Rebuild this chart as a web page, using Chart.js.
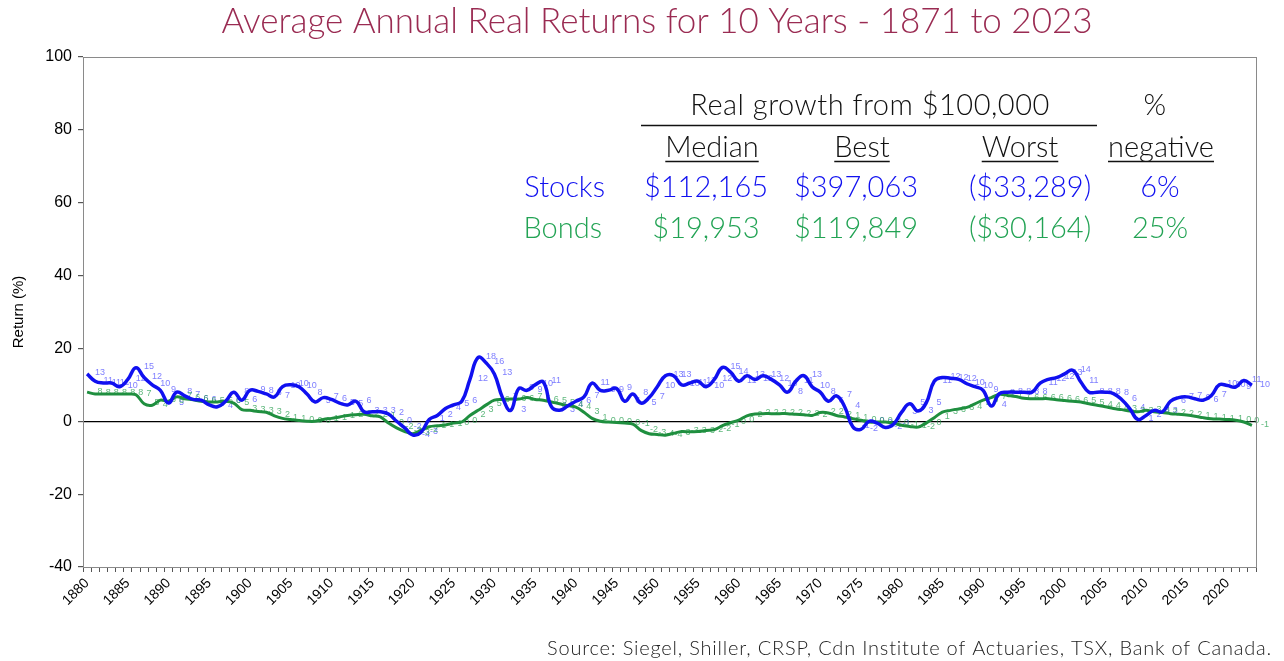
<!DOCTYPE html>
<html>
<head>
<meta charset="utf-8">
<script src="https://cdn.jsdelivr.net/npm/chart.js"></script>
<style>
  html, body { margin: 0; padding: 0; background: #fff; }
  canvas { display: block; }
</style>
</head>
<body>
<canvas id="returnsChart" width="1284" height="661"></canvas>
<script>
// 10-year average annual real returns, one value per end year 1880..2023
const firstYear = 1880;
const lastYear = 2023;
const years = [];
for (let y = firstYear; y <= lastYear; y++) years.push(String(y));

const tickYears = [1880, 1885, 1890, 1895, 1900, 1905, 1910, 1915, 1920, 1925, 1930, 1935,
  1940, 1945, 1950, 1955, 1960, 1965, 1970, 1975, 1980, 1985, 1990, 1995, 2000, 2005,
  2010, 2015, 2020];

const stocks = [
  13, 11, 10.5, 10.5, 9.5, 11.5, 14.7, 12, 10, 8.5,
  5, 8, 7, 6, 5.8, 4.5, 4, 5.5, 8, 5.8,
  8.5, 8.2, 7.5, 6.7, 9.5, 10, 9.5, 7.5, 5.3, 6.5,
  6, 5, 4.5, 5.5, 2.6, 2.6, 2.6, 2, 0, -1.8,
  -3.8, -3, 0.5, 1.6, 3.5, 4.5, 5.5, 11.5, 17.5, 16,
  13, 6.5, 3, 9, 8.5, 10, 10.8, 4, 3, 4.2,
  5.5, 6.7, 10.5, 8.5, 8.5, 9, 5.5, 7.5, 5, 6.5,
  9.5, 12.5, 12.5, 10, 10.5, 11, 9.5, 11.5, 14.8, 13.5,
  11, 12.5, 11.5, 12.5, 11.5, 10, 8, 11, 12.5, 9.5,
  8, 5.5, 7, 4, -1.5, -2.2, 0, -0.5, -1.7, -0.8,
  2.5, 4.8, 2.8, 5, 11, 12, 11.8, 11.5, 10.3, 9.5,
  8.5, 4.2, 7.6, 8, 8, 8, 8, 10.5, 11.5, 12,
  13, 14, 10.8, 8, 8, 8, 7.6, 6, 3.5, 0.5,
  1.6, 3, 2.6, 5.5, 6.5, 6.7, 6.2, 5.8, 7, 10,
  9.8, 9.4, 11.2, 9.9
];

const bonds = [
  8, 7.5, 7.5, 7.5, 7.5, 7.5, 7.3, 4.8, 4.4, 5.8,
  5.5, 6.7, 6.2, 5.9, 5.5, 5.3, 5.3, 5.5, 5, 3.2,
  3, 2.7, 2.5, 1.5, 0.8, 0.5, 0.2, 0, 0, 0.5,
  0.8, 1.2, 1.6, 1.8, 1.9, 1.5, 1.2, -0.5, -1.8, -2.8,
  -3.4, -2.5, -1.5, -1.2, -1, -0.5, -0.2, 1.6, 3, 4.5,
  5.8, 6, 6.1, 6.1, 6.5, 6, 5.8, 5.3, 4.8, 4.3,
  3.9, 2.5, 0.8, 0, -0.2, -0.3, -0.5, -0.8, -2.5, -3.4,
  -3.6, -3.8, -3.3, -2.8, -2.9, -2.8, -2.5, -2.3, -1.2, -0.4,
  0.3, 1.5, 2, 2.1, 2.1, 2.1, 2.1, 1.9, 1.8, 1.6,
  2.4, 2.3, 1.6, 1.2, 0.7, 0.3, -0.2, -0.2, -0.2, -0.5,
  -1.1, -1.4, -1.6, -0.5, 1, 2.5, 3, 3.4, 3.8, 4.8,
  5.8, 6.5, 7.4, 7.1, 6.8, 6.3, 6.2, 6.2, 6.2, 5.9,
  5.7, 5.5, 5.3, 4.8, 4.4, 4, 3.5, 3.2, 2.8, 2.6,
  3, 2.6, 2.4, 2.1, 1.9, 1.7, 1.4, 1, 0.7, 0.6,
  0.5, 0.3, -0.2, -1.1
];

// summary table
const tableCols = ['Median', 'Best', 'Worst', 'negative'];
const stockRow = ['$112,165', '$397,063', '($33,289)', '6%'];
const bondRow = ['$19,953', '$119,849', '($30,164)', '25%'];

const BLUE = '#1010f0';
const GREEN = '#1f8f3f';
const GREEN_TXT = '#22a354';
const TITLE_COL = '#9a2b52';
const FONT = 'Lato, "Open Sans", sans-serif';

// small value labels next to each point
const pointLabels = {
  id: 'pointLabels',
  beforeDatasetsDraw(chart) {
    const ctx = chart.ctx;
    ctx.save();
    ctx.font = '9px "Liberation Sans", Arial, sans-serif';
    ctx.textAlign = 'center';
    ctx.textBaseline = 'middle';
    chart.data.datasets.forEach((ds, i) => {
      const meta = chart.getDatasetMeta(i);
      ctx.fillStyle = i === 0 ? 'rgba(70,70,255,0.7)' : 'rgba(40,160,80,0.75)';
      meta.data.forEach((pt, j) => {
        ctx.fillText(String(Math.round(ds.data[j])), pt.x + 13, pt.y - 1);
      });
    });
    ctx.restore();
  }
};

// title, table, axis title, source
const decorations = {
  id: 'decorations',
  afterDraw(chart) {
    const ctx = chart.ctx;
    const a = chart.chartArea;
    ctx.save();

    // plot border
    ctx.strokeStyle = '#8a8a8a';
    ctx.lineWidth = 1;
    ctx.strokeRect(a.left + 0.5, a.top + 0.5, a.right - a.left, a.bottom - a.top);

    ctx.fillStyle = TITLE_COL;
    ctx.font = '300 35px ' + FONT;
    ctx.textAlign = 'center';
    ctx.textBaseline = 'middle';
    ctx.fillText('Average Annual Real Returns for 10 Years - 1871 to 2023', 657, 22);

    // table
    ctx.fillStyle = '#111';
    ctx.font = '300 29px ' + FONT;
    ctx.letterSpacing = '0.5px';
    ctx.fillText('Real growth from $100,000', 870, 106);
    ctx.fillText('%', 1155, 106);
    ctx.letterSpacing = '0px';
    ctx.strokeStyle = '#111';
    ctx.lineWidth = 1.5;
    ctx.beginPath();
    ctx.moveTo(641, 125.5); ctx.lineTo(1097, 125.5);
    ctx.stroke();

    const colX = [712, 862, 1020, 1161];
    tableCols.forEach((t, i) => {
      ctx.fillStyle = '#111';
      ctx.fillText(t, colX[i], 148);
      const w = ctx.measureText(t).width;
      ctx.beginPath();
      ctx.moveTo(colX[i] - w / 2, 161.5); ctx.lineTo(colX[i] + w / 2, 161.5);
      ctx.stroke();
    });

    const valX = [706, 856, 1030, 1160];
    ctx.fillStyle = BLUE;
    ctx.textAlign = 'right';
    ctx.fillText('Stocks', 605, 188);
    ctx.textAlign = 'center';
    stockRow.forEach((t, i) => ctx.fillText(t, valX[i], 188));

    ctx.fillStyle = GREEN_TXT;
    ctx.textAlign = 'right';
    ctx.fillText('Bonds', 602, 229);
    ctx.textAlign = 'center';
    bondRow.forEach((t, i) => ctx.fillText(t, valX[i], 229));

    // y axis title
    ctx.fillStyle = '#000';
    ctx.font = '15px "Liberation Sans", Arial, sans-serif';
    ctx.translate(19, 312);
    ctx.rotate(-Math.PI / 2);
    ctx.fillText('Return (%)', 0, 0);
    ctx.setTransform(1, 0, 0, 1, 0, 0);

    // source
    ctx.font = '300 20px ' + FONT;
    ctx.letterSpacing = '0.8px';
    ctx.textAlign = 'right';
    ctx.fillStyle = '#222';
    ctx.fillText('Source: Siegel, Shiller, CRSP, Cdn Institute of Actuaries, TSX, Bank of Canada.', 1272, 649);
    ctx.restore();
  }
};

new Chart(document.getElementById('returnsChart'), {
  type: 'line',
  data: {
    labels: years,
    datasets: [
      {
        label: 'Stocks',
        data: stocks,
        borderColor: BLUE,
        borderWidth: 3.5,
        pointRadius: 0,
        tension: 0.45,
        fill: false
      },
      {
        label: 'Bonds',
        data: bonds,
        borderColor: GREEN,
        borderWidth: 3,
        pointRadius: 0,
        tension: 0.35,
        fill: false
      }
    ]
  },
  options: {
    responsive: false,
    animation: false,
    layout: { padding: { top: 57, right: 28, left: 0, bottom: 0 } },
    plugins: {
      legend: { display: false },
      tooltip: { enabled: false },
      title: { display: false }
    },
    scales: {
      x: {
        type: 'category',
        offset: true,
        afterFit: s => { s.height = 94; },
        border: { color: '#555', width: 1 },
        grid: { drawOnChartArea: false, tickLength: 5, tickColor: '#555', offset: true },
        ticks: {
          autoSkip: false,
          maxRotation: 45,
          minRotation: 45,
          color: '#000',
          font: { size: 14, family: '"Liberation Sans", Arial, sans-serif' },
          callback: function (v) {
            const yr = Number(this.getLabelForValue(v));
            return tickYears.includes(yr) ? String(yr) : '';
          }
        }
      },
      y: {
        min: -40,
        max: 100,
        afterFit: s => { s.width = 83; },
        border: { color: '#555', width: 1 },
        grid: {
          tickLength: 5,
          tickColor: '#555',
          lineWidth: 1.2,
          color: c => (c.tick && c.tick.value === 0 ? '#000' : 'rgba(0,0,0,0)')
        },
        ticks: {
          stepSize: 20,
          color: '#000',
          padding: 6,
          font: { size: 16, family: '"Liberation Sans", Arial, sans-serif' }
        }
      }
    }
  },
  plugins: [pointLabels, decorations]
});
</script>
</body>
</html>
